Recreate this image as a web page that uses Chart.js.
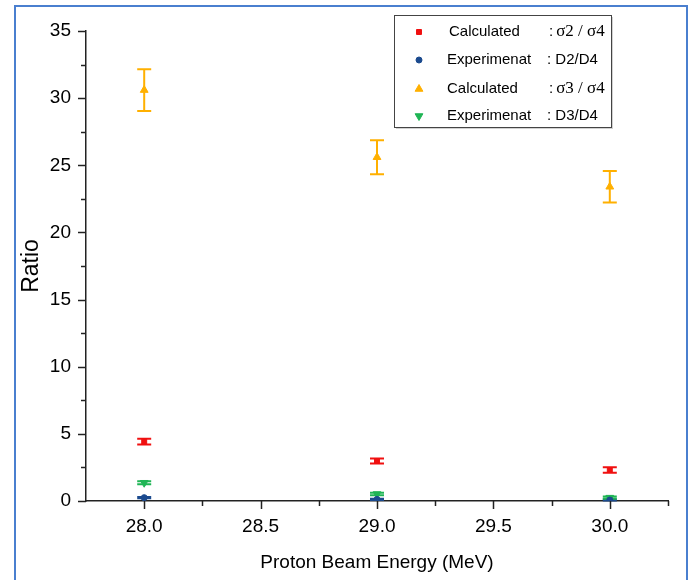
<!DOCTYPE html>
<html>
<head>
<meta charset="utf-8">
<script src="https://cdn.jsdelivr.net/npm/chart.js@4.4.1/dist/chart.umd.min.js"></script>
<style>
  body{margin:0;background:#fff;overflow:hidden;}
  #wrap{position:relative;width:691px;height:580px;}
  #frame{position:absolute;left:14px;top:5px;width:670px;height:600px;border:2px solid #4a7fcf;pointer-events:none;}
  canvas{position:absolute;left:0;top:0;}
</style>
</head>
<body>
<div id="wrap">
  <canvas id="chart" width="691" height="580"></canvas>
  <div id="frame"></div>
</div>
<script>
// data
const energies = [28.0, 29.0, 30.0];
const calcS2S4 = [4.42, 2.98, 2.31];
const calcS2S4Err = [0.22, 0.19, 0.2];
const expD2D4 = [0.25, 0.12, 0.07];
const expD2D4Err = [0.05, 0.05, 0.04];
const calcS3S4 = [30.6, 25.6, 23.4];
const calcS3S4Err = [1.55, 1.27, 1.18];
const expD3D4 = [1.36, 0.52, 0.25];
const expD3D4Err = [0.12, 0.1, 0.08];
const xTicks = [28.0, 28.5, 29.0, 29.5, 30.0];
const yTicks = [0, 5, 10, 15, 20, 25, 30, 35];

const FONT = "'Liberation Sans', Arial, sans-serif";
Chart.defaults.font.family = FONT;

function pts(vals){ return energies.map((x,i)=>({x:x, y:vals[i]})); }

const series = [
  {label:'Calculated', sub:[[':','sans'],['σ2 / σ4','serif']], data:calcS2S4, err:calcS2S4Err, color:'#f01010', style:'rect', r:3.5, rot:0},
  {label:'Experimenat', sub:[[': D2/D4','sans']], data:expD2D4, err:expD2D4Err, color:'#1b4a8e', style:'circle', r:3, rot:0},
  {label:'Calculated', sub:[[':','sans'],['σ3 / σ4','serif']], data:calcS3S4, err:calcS3S4Err, color:'#ffb000', style:'triangle', r:4.5, rot:0},
  {label:'Experimenat', sub:[[': D3/D4','sans']], data:expD3D4, err:expD3D4Err, color:'#1fb555', style:'triangle', r:4.5, rot:180}
];

/* error bars, drawn under the markers */
const errorBars = {
  id:'errorBars',
  beforeDatasetsDraw(chart){
    const {ctx, scales:{x, y}} = chart;
    ctx.save();
    chart.data.datasets.forEach(ds=>{
      ctx.strokeStyle = ds.borderColor;
      ctx.lineWidth = 2;
      ds.data.forEach((p,i)=>{
        const e = ds.errors[i];
        const px = x.getPixelForValue(p.x);
        const top = y.getPixelForValue(p.y + e);
        const bot = y.getPixelForValue(p.y - e);
        ctx.beginPath();
        ctx.moveTo(px, top); ctx.lineTo(px, bot);
        ctx.moveTo(px-7, top); ctx.lineTo(px+7, top);
        ctx.moveTo(px-7, bot); ctx.lineTo(px+7, bot);
        ctx.stroke();
      });
    });
    ctx.restore();
  }
};

/* outward tick marks, majors and minors */
const tickMarks = {
  id:'tickMarks',
  afterDraw(chart){
    const {ctx, chartArea:a, scales:{x, y}} = chart;
    ctx.save();
    ctx.strokeStyle = '#222';
    ctx.lineWidth = 1.5;
    for(let v=0; v<=35.001; v+=2.5){
      const py = Math.round(y.getPixelForValue(v)) + 0.5;
      const len = (Math.abs(v/5 - Math.round(v/5)) < 1e-6) ? 8 : 5;
      ctx.beginPath(); ctx.moveTo(a.left - len, py); ctx.lineTo(a.left, py); ctx.stroke();
    }
    for(let v=28.0; v<=30.2501; v+=0.25){
      const px = Math.round(x.getPixelForValue(v)) + 0.5;
      const len = (Math.abs(v/0.5 - Math.round(v/0.5)) < 1e-6) ? 8 : 5;
      ctx.beginPath(); ctx.moveTo(px, a.bottom); ctx.lineTo(px, a.bottom + len); ctx.stroke();
    }
    ctx.restore();
  }
};

/* boxed legend with two text columns */
const boxLegend = {
  id:'boxLegend',
  afterDraw(chart){
    const ctx = chart.ctx;
    const bx = 394, by = 15, bw = 217, bh = 112;
    const rows = [32, 60, 89, 116];
    ctx.save();
    ctx.fillStyle = 'rgba(0,0,0,0.18)';
    ctx.fillRect(bx+2, by+2, bw, bh);
    ctx.fillStyle = '#fff';
    ctx.fillRect(bx, by, bw, bh);
    ctx.strokeStyle = '#444';
    ctx.lineWidth = 1;
    ctx.strokeRect(bx+0.5, by+0.5, bw, bh);
    series.forEach((s,i)=>{
      const cy = rows[i];
      ctx.fillStyle = s.color; ctx.strokeStyle = s.color; ctx.lineWidth = 1;
      Chart.helpers.drawPoint(ctx, {pointStyle:s.style, radius:s.r, rotation:s.rot, borderWidth:1}, 419, cy);
      ctx.fillStyle = '#000';
      ctx.textBaseline = 'middle';
      ctx.font = '15px ' + FONT;
      ctx.fillText(s.label, i===0 ? 449 : 447, cy);
      let tx = i===0 || i===2 ? 549 : 547;
      s.sub.forEach(([t,f])=>{
        ctx.font = f==='serif' ? "17px 'Liberation Serif', serif" : '15px ' + FONT;
        ctx.fillText(t, tx, cy);
        tx += ctx.measureText(t).width + (f==='sans' && t===':' ? 3 : 0);
      });
    });
    ctx.restore();
  }
};

new Chart(document.getElementById('chart'), {
  type:'scatter',
  data:{
    datasets: series.map(s=>({
      label: s.label,
      data: pts(s.data),
      errors: s.err,
      backgroundColor: s.color,
      borderColor: s.color,
      pointStyle: s.style,
      pointRadius: s.r,
      rotation: s.rot,
      pointBorderWidth: 1
    }))
  },
  options:{
    responsive:false,
    animation:false,
    layout:{padding:{top:31, right:23, left:0, bottom:0}},
    plugins:{legend:{display:false}, tooltip:{enabled:false}},
    scales:{
      x:{
        type:'linear', min:27.75, max:30.25,
        afterBuildTicks: s=>{ s.ticks = xTicks.map(v=>({value:v})); },
        afterFit: s=>{ s.height = 79; },
        grid:{display:false, drawTicks:false},
        border:{display:true, color:'#222', width:1.5},
        ticks:{padding:14, color:'#000', font:{size:19}, callback:v=>Number(v).toFixed(1)},
        title:{display:true, text:'Proton Beam Energy (MeV)', color:'#000', font:{size:19}, padding:{top:0, bottom:6}}
      },
      y:{
        min:0, max:35,
        afterBuildTicks: s=>{ s.ticks = yTicks.map(v=>({value:v})); },
        afterFit: s=>{ s.width = 86; },
        grid:{display:false, drawTicks:false},
        border:{display:true, color:'#222', width:1.5},
        ticks:{padding:15, color:'#000', font:{size:19}},
        title:{display:true, text:'Ratio', color:'#000', font:{size:23}, padding:{top:18, bottom:0}}
      }
    }
  },
  plugins:[errorBars, tickMarks, boxLegend]
});
</script>
</body>
</html>
